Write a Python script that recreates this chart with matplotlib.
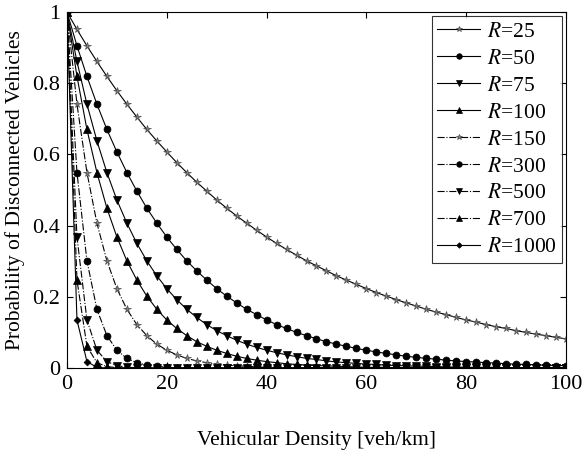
import numpy as np
import matplotlib.pyplot as plt

plt.rcParams["font.family"] = "Liberation Serif"
plt.rcParams["mathtext.fontset"] = "stix"

# vehicular density samples [veh/km], one marker every 2 veh/km
density = np.arange(0, 101, 2)
n_pts = len(density)

ranges = [25, 50, 75, 100, 150, 300, 500, 700, 1000]


def pad(values):
    # readings stay on the zero line once the curve has collapsed
    return values + [0.0] * (n_pts - len(values))


p_r25 = pad([1.000, 0.951, 0.905, 0.861, 0.819, 0.779, 0.741, 0.705, 0.670, 0.638,
             0.607, 0.577, 0.549, 0.522, 0.497, 0.472, 0.449, 0.427, 0.407, 0.387,
             0.368, 0.350, 0.333, 0.317, 0.301, 0.287, 0.273, 0.259, 0.247, 0.235,
             0.223, 0.212, 0.202, 0.192, 0.183, 0.174, 0.165, 0.157, 0.150, 0.142,
             0.135, 0.129, 0.122, 0.116, 0.111, 0.105, 0.100, 0.095, 0.091, 0.086,
             0.082])
p_r50 = pad([1.000, 0.905, 0.819, 0.741, 0.670, 0.607, 0.549, 0.497, 0.449, 0.407,
             0.368, 0.333, 0.301, 0.273, 0.247, 0.223, 0.202, 0.183, 0.165, 0.150,
             0.135, 0.122, 0.111, 0.100, 0.091, 0.082, 0.074, 0.067, 0.061, 0.055,
             0.050, 0.045, 0.041, 0.037, 0.033, 0.030, 0.027, 0.025, 0.022, 0.020,
             0.018, 0.017, 0.015, 0.014, 0.012, 0.011, 0.010, 0.009, 0.008, 0.007,
             0.007])
p_r75 = pad([1.000, 0.861, 0.741, 0.638, 0.549, 0.472, 0.407, 0.350, 0.301, 0.259,
             0.223, 0.192, 0.165, 0.142, 0.122, 0.105, 0.091, 0.078, 0.067, 0.058,
             0.050, 0.043, 0.037, 0.032, 0.027, 0.024, 0.020, 0.017, 0.015, 0.013,
             0.011, 0.010, 0.008, 0.007, 0.006, 0.005, 0.005, 0.004, 0.003, 0.003,
             0.002, 0.002, 0.002, 0.002, 0.001, 0.001, 0.001, 0.001, 0.001, 0.001,
             0.001])
p_r100 = pad([1.000, 0.819, 0.670, 0.549, 0.449, 0.368, 0.301, 0.247, 0.202, 0.165,
              0.135, 0.111, 0.091, 0.074, 0.061, 0.050, 0.041, 0.033, 0.027, 0.022,
              0.018, 0.015, 0.012, 0.010, 0.008, 0.007, 0.006, 0.005, 0.004, 0.003,
              0.002, 0.002, 0.002, 0.001, 0.001, 0.001, 0.001])
p_r150 = pad([1.000, 0.741, 0.549, 0.407, 0.301, 0.223, 0.165, 0.122, 0.091, 0.067,
              0.050, 0.037, 0.027, 0.020, 0.015, 0.011, 0.008, 0.006, 0.005, 0.003,
              0.002])
p_r300 = pad([1.000, 0.549, 0.301, 0.165, 0.091, 0.050, 0.027, 0.015, 0.008, 0.005,
              0.002])
p_r500 = pad([1.000, 0.368, 0.135, 0.050, 0.018, 0.007, 0.002, 0.001])
p_r700 = pad([1.000, 0.247, 0.061, 0.015, 0.004, 0.001])
p_r1000 = pad([1.000, 0.135, 0.018, 0.002])

series = [p_r25, p_r50, p_r75, p_r100, p_r150, p_r300, p_r500, p_r700, p_r1000]
markers = ["*", "o", "v", "^", "*", "o", "v", "^", "D"]
styles = ["-", "-", "-", "-", "-.", "-.", "-.", "-.", "-"]
msizes = [5.5, 5, 5.5, 5.5, 5.5, 5, 5.5, 5.5, 3.5]

fig = plt.figure(figsize=(5.85, 4.61), dpi=100)
ax = fig.add_axes([0.1145, 0.2017, 0.853, 0.7723])

for r, vals, mk, ls, ms in zip(ranges, series, markers, styles, msizes):
    star = mk == "*"
    ax.plot(density, vals, linestyle=ls, color="black", linewidth=0.8,
            marker=mk, markersize=ms,
            markerfacecolor="0.5" if star else "black",
            markeredgecolor="0.3" if star else "black",
            markeredgewidth=0.5, label=f"$R$={r}")

ax.set_xlim(0, 100)
ax.set_ylim(0, 1)
ax.set_xticks([0, 20, 40, 60, 80, 100])
ax.set_yticks([0, 0.2, 0.4, 0.6, 0.8, 1])
ax.set_yticklabels(["0", "0.2", "0.4", "0.6", "0.8", "1"])
ax.tick_params(direction="in", top=True, right=True, labelsize=16, length=4,
               width=0.8, pad=5)
for sp in ax.spines.values():
    sp.set_linewidth(0.8)

ax.set_xlabel("Vehicular Density [veh/km]", fontsize=15.5, labelpad=27)
ax.set_ylabel("Probability of Disconnected Vehicles", fontsize=15.5, labelpad=5)

leg = ax.legend(loc="upper right", fontsize=15.5, frameon=True, fancybox=False,
                edgecolor="black", handlelength=2.0, handletextpad=0.3,
                labelspacing=0.32, borderpad=0.25, borderaxespad=0.2,
                markerscale=0.8)
leg.get_frame().set_linewidth(0.8)

fig.savefig("out.png", dpi=100)
